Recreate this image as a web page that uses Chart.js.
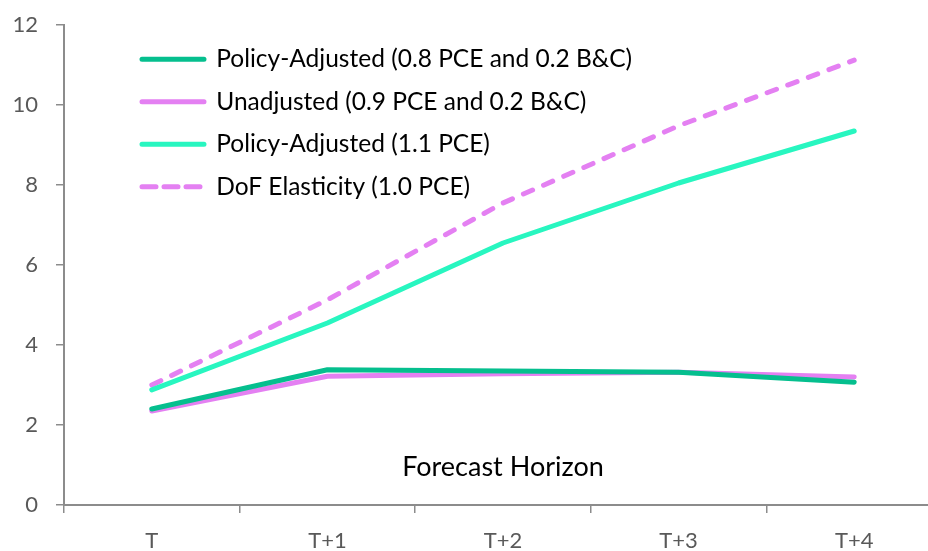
<!DOCTYPE html>
<html lang="en">
  <head>
    <meta charset="UTF-8" />
    <title>Forecast Horizon</title>
    <script src="https://cdn.jsdelivr.net/npm/chart.js"></script>
    <style>
      html, body { margin: 0; padding: 0; overflow: hidden; background: #fff; }
      #wrap { width: 942px; height: 551px; }
    </style>
  </head>
  <body>
    <div id="wrap"><canvas id="horizonChart"></canvas></div>
    <script>
      const horizons = ["T", "T+1", "T+2", "T+3", "T+4"];
      const policyAdjusted = [2.4, 3.38, 3.35, 3.32, 3.07];
      const unadjusted = [2.35, 3.22, 3.28, 3.32, 3.2];
      const policyAdjusted11 = [2.88, 4.55, 6.55, 8.05, 9.35];
      const dofElasticity = [3.0, 5.13, 7.55, 9.48, 11.12];
      const yTicks = [0, 2, 4, 6, 8, 10, 12];

      const axisGrey = "#8c8c8c";
      const labelGrey = "#595959";

      // text sitting inside the plot, above the x axis
      const horizonLabel = {
        id: "horizonLabel",
        afterDraw(chart) {
          const { ctx, chartArea } = chart;
          ctx.save();
          ctx.font = "27px Lato";
          ctx.fillStyle = "#000";
          ctx.textAlign = "center";
          ctx.textBaseline = "middle";
          ctx.fillText("Forecast Horizon", (chartArea.left + chartArea.right) / 2, chartArea.bottom - 38);
          ctx.restore();
        },
      };

      // push the legend a bit into the plot
      const legendShift = {
        id: "legendShift",
        afterLayout(chart) {
          chart.legend.left += 60;
          chart.legend.top += 29;
        },
      };

      function line(label, data, color, dash) {
        return {
          label: label,
          data: data,
          borderColor: color,
          backgroundColor: color,
          borderWidth: 5,
          borderDash: dash || [],
          borderCapStyle: "round",
          borderJoinStyle: "round",
          pointRadius: 0,
          tension: 0,
          fill: false,
        };
      }

      new Chart(document.getElementById("horizonChart"), {
        type: "line",
        data: {
          labels: horizons,
          datasets: [
            line("Policy-Adjusted (0.8 PCE and 0.2 B&C)", policyAdjusted, "#05bf8e"),
            line("Unadjusted (0.9 PCE and 0.2 B&C)", unadjusted, "#e480f2"),
            line("Policy-Adjusted (1.1 PCE)", policyAdjusted11, "#28f6c0"),
            line("DoF Elasticity (1.0 PCE)", dofElasticity, "#e480f2", [10, 12]),
          ],
        },
        plugins: [horizonLabel, legendShift],
        options: {
          responsive: true,
          maintainAspectRatio: false,
          animation: false,
          layout: { padding: { top: 0, right: 0, left: 13, bottom: 0 } },
          plugins: {
            tooltip: { enabled: false },
            legend: {
              position: "chartArea",
              align: "start",
              labels: {
                boxWidth: 62,
                boxHeight: 0,
                padding: 18,
                color: "#000",
                font: { family: "Lato", size: 24.5 },
                useBorderRadius: false,
              },
            },
          },
          scales: {
            x: {
              offset: true,
              afterFit(scale) {
                scale.height = 46;
              },
              grid: {
                offset: true,
                display: true,
                drawOnChartArea: false,
                color: axisGrey,
                tickLength: 8,
                lineWidth: 1.5,
              },
              border: { color: axisGrey, width: 2 },
              ticks: { color: labelGrey, font: { family: "Lato", size: 22, lineHeight: 1 }, padding: 17 },
            },
            y: {
              min: 0,
              max: 12,
              afterBuildTicks(axis) {
                axis.ticks = yTicks.map((v) => ({ value: v }));
              },
              afterFit(scale) {
                scale.width = 51;
                scale.paddingTop = 25;
              },
              grid: {
                drawOnChartArea: false,
                color: axisGrey,
                tickLength: 8,
                lineWidth: 1.5,
              },
              border: { color: axisGrey, width: 2 },
              ticks: { color: labelGrey, font: { family: "Lato", size: 22 }, padding: 18 },
            },
          },
        },
      });
    </script>
  </body>
</html>
